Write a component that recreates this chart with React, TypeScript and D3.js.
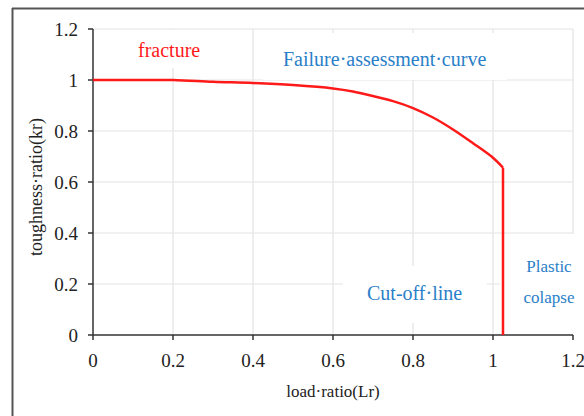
import React from "react";
import * as d3 from "d3";

const loadRatio = [0, 0.1, 0.2, 0.3, 0.4, 0.5, 0.6, 0.65, 0.7, 0.75, 0.8, 0.85, 0.9, 0.95, 1.0, 1.025, 1.025];
const toughRatio = [1, 1, 1, 0.993, 0.988, 0.98, 0.967, 0.955, 0.937, 0.917, 0.89, 0.853, 0.806, 0.752, 0.695, 0.656, 0];
const xTicks = [0, 0.2, 0.4, 0.6, 0.8, 1, 1.2];
const yTicks = [0, 0.2, 0.4, 0.6, 0.8, 1, 1.2];

export default function App() {
  const W = 584, H = 416;
  const x = d3.scaleLinear().domain([0, 1.2]).range([93, 573]);
  const y = d3.scaleLinear().domain([0, 1.2]).range([335, 29]);
  const pts: [number, number][] = loadRatio.map((v, i) => [v, toughRatio[i]]);
  const line = d3.line<[number, number]>().x(d => x(d[0])).y(d => y(d[1])).curve(d3.curveCatmullRom.alpha(0.5));
  const serif = "'Liberation Serif', 'Times New Roman', serif";
  const blue = "#2a80c8";
  const curvePts = pts.slice(0, pts.length - 1);
  const last = pts[pts.length - 1];
  const prev = pts[pts.length - 2];
  return (
    <svg width={W} height={H} style={{ position: "absolute", left: 0, top: 0, background: "#fff" }}>
      <rect x={0} y={0} width={W} height={H} fill="#fff" />
      {/* frame */}
      <line x1={12.5} y1={8} x2={12.5} y2={H} stroke="#555" strokeWidth={2} />
      <line x1={12} y1={8.5} x2={W} y2={8.5} stroke="#555" strokeWidth={2} />
      {/* grid */}
      {xTicks.slice(1).map(t => (
        <line key={"gx" + t} x1={x(t)} x2={x(t)} y1={y(0)} y2={y(1.2)} stroke="#e3e3e3" strokeWidth={1.2} />
      ))}
      {yTicks.slice(1).map(t => (
        <line key={"gy" + t} x1={x(0)} x2={x(1.2)} y1={y(t)} y2={y(t)} stroke="#e3e3e3" strokeWidth={1.2} />
      ))}
      {/* label boxes covering grid */}
      <rect x={116} y={30} width={106} height={38} fill="#fff" />
      <rect x={263} y={33} width={244} height={47} fill="#fff" />
      <rect x={343} y={266} width={144} height={57} fill="#fff" />
      <rect x={500} y={234} width={84} height={100} fill="#fff" />
      {/* axes */}
      <line x1={x(0)} x2={x(0)} y1={y(1.2)} y2={y(0)} stroke="#333" strokeWidth={1.5} />
      <line x1={x(0)} x2={x(1.2)} y1={y(0)} y2={y(0)} stroke="#333" strokeWidth={1.5} />
      {yTicks.map(t => (
        <g key={"ty" + t}>
          <line x1={x(0) - 5} x2={x(0)} y1={y(t)} y2={y(t)} stroke="#333" strokeWidth={1.5} />
          <text x={78} y={y(t)} dy="0.35em" textAnchor="end" fontFamily={serif} fontSize={19} fill="#222">{t}</text>
        </g>
      ))}
      {xTicks.map(t => (
        <g key={"tx" + t}>
          <line x1={x(t)} x2={x(t)} y1={y(0)} y2={y(0) + 5} stroke="#333" strokeWidth={1.5} />
          <text x={x(t)} y={367} textAnchor="middle" fontFamily={serif} fontSize={19} fill="#222">{t}</text>
        </g>
      ))}
      {/* curve */}
      <path d={line(curvePts) || ""} fill="none" stroke="#ff1a1a" strokeWidth={2.5} strokeLinejoin="round" />
      <line x1={x(prev[0])} x2={x(last[0])} y1={y(prev[1])} y2={y(last[1])} stroke="#ff1a1a" strokeWidth={2.5} />
      {/* texts */}
      <text x={138} y={57} fontFamily={serif} fontSize={20} fill="#ff1a1a">fracture</text>
      <text x={283} y={66} fontFamily={serif} fontSize={20} fill={blue}>Failure·assessment·curve</text>
      <text x={367} y={300} fontFamily={serif} fontSize={20} fill={blue}>Cut-off·line</text>
      <text x={549} y={272} textAnchor="middle" fontFamily={serif} fontSize={17} fill={blue}>Plastic</text>
      <text x={549} y={303} textAnchor="middle" fontFamily={serif} fontSize={17} fill={blue}>colapse</text>
      <text x={333} y={397} textAnchor="middle" fontFamily={serif} fontSize={17} fill="#222">load·ratio(Lr)</text>
      <text transform={`translate(42,187) rotate(-90)`} textAnchor="middle" fontFamily={serif} fontSize={18} fill="#222">toughness·ratio(kr)</text>
    </svg>
  );
}
